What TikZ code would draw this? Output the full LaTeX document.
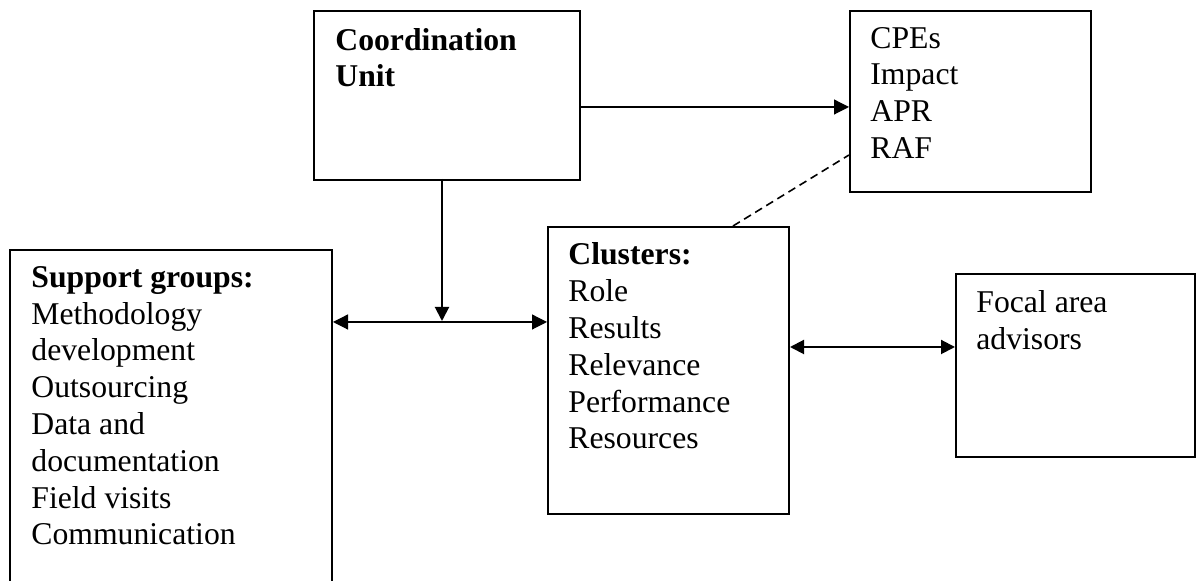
\documentclass[tikz,border=0pt]{standalone}
\usepackage{fontspec}
\setmainfont{Liberation Serif}
\usetikzlibrary{arrows.meta}
\tikzset{
  boxframe/.style={draw, line width=1pt, inner sep=0pt, anchor=north west},
  boxtext/.style={anchor=base west, inner sep=0pt, align=left,
    font=\fontsize{15.85}{18.4}\selectfont},
  thinarrow/.style={line width=0.6pt, -{Triangle[length=7.5pt,width=7.5pt]}},
  thinboth/.style={line width=0.6pt, {Triangle[length=7.5pt,width=7.5pt]}-{Triangle[length=7.5pt,width=7.5pt]}},
  thickarrow/.style={line width=1pt, -{Triangle[length=7pt,width=7pt]}},
  thickboth/.style={line width=1pt, {Triangle[length=7pt,width=7pt]}-{Triangle[length=7pt,width=7pt]}},
  dashlink/.style={line width=0.8pt, dash pattern=on 4pt off 2.5pt}
}
\begin{document}
\begin{tikzpicture}[x=0.5pt, y=-0.5pt]
\useasboundingbox (0,0) rectangle (1196,581);
% boxes
\node[boxframe, minimum width=133pt, minimum height=84.5pt] (coord) at (313,10) {};
\node[boxframe, minimum width=120.5pt, minimum height=90.5pt] (cpe) at (849,10) {};
\node[boxframe, minimum width=120.5pt, minimum height=143.5pt] (clus) at (547,226) {};
\node[boxframe, minimum width=161pt, minimum height=175pt] (supp) at (9,249) {};
\node[boxframe, minimum width=119.5pt, minimum height=91.5pt] (focal) at (955,273) {};
% texts (anchored at the baseline of the last line)
\node[boxtext] (coordt) at (335,87) {\textbf{Coordination}\\\textbf{Unit}};
\node[boxtext] (cpet) at (870,158.5) {CPEs\\Impact\\APR\\RAF};
\node[boxtext] (clust) at (568,449) {\textbf{Clusters:}\\Role\\Results\\Relevance\\Performance\\Resources};
\node[boxtext] (suppt) at (31,545) {\textbf{Support groups:}\\Methodology\\development\\Outsourcing\\Data and\\documentation\\Field visits\\Communication};
\node[boxtext] (focalt) at (976,349.5) {Focal area\\advisors};
% connectors
\coordinate (vtop) at (442,179);
\coordinate (vjoin) at (442,322);
\draw[thinarrow] (coord.east |- 0,107) -- (cpe.west |- 0,107);
\draw[thickarrow] (vtop) -- ([yshift=0.5pt]vjoin);
\draw[thinboth] (supp.east |- vjoin) -- (clus.west |- vjoin);
\draw[dashlink] (clus.north -| 733,0) -- (cpe.west |- 0,155);
\draw[thickboth] (clus.east |- 0,347) -- (focal.west |- 0,347);
\end{tikzpicture}
\end{document}
